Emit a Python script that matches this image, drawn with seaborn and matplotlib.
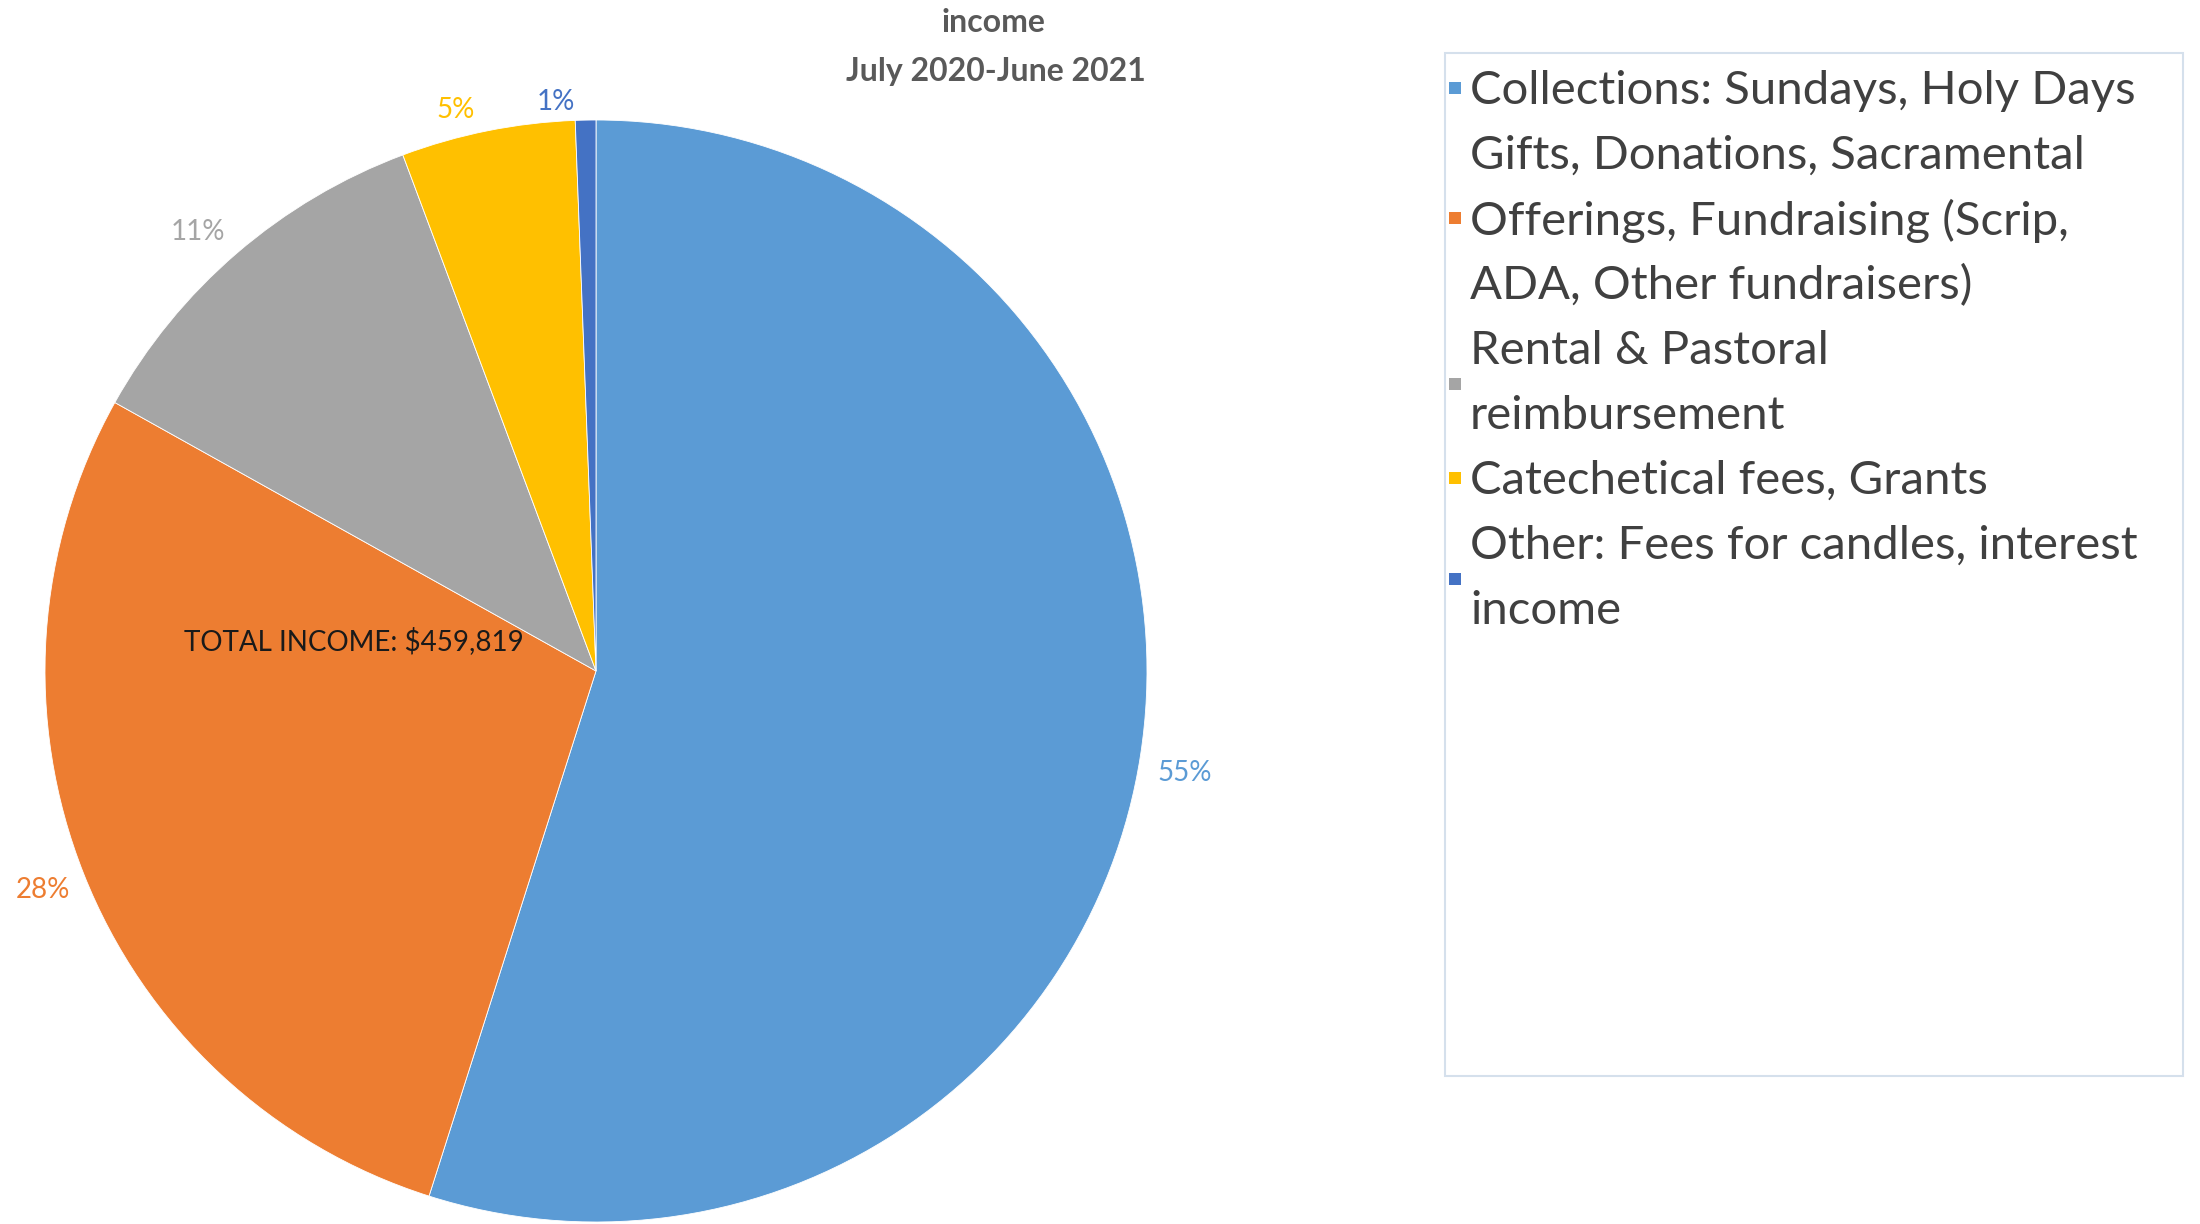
import matplotlib
matplotlib.use("Agg")
import matplotlib.pyplot as plt
from matplotlib.patches import Rectangle
import numpy as np
import seaborn as sns

# --- data ---
categories = [
    "Collections: Sundays, Holy Days\nGifts, Donations, Sacramental",
    "Offerings, Fundraising (Scrip,\nADA, Other fundraisers)",
    "Rental & Pastoral\nreimbursement",
    "Catechetical fees, Grants",
    "Other: Fees for candles, interest\nincome",
]
shares = [54.9, 28.2, 11.2, 5.1, 0.6]
colors = ["#5B9BD5", "#ED7D31", "#A5A5A5", "#FFC000", "#4472C4"]
title_lines = ["income", "July 2020-June 2021"]
total_text = "TOTAL INCOME: $459,819"

# label placement tweaks (radial distance, angle nudge in degrees)
lab_dist = [1.085, 1.08, 1.075, 1.05, 1.035]
lab_nudge = [1.0, 0.0, -1.5, -2.7, -3.0]

sns.set_theme(style="white")
plt.rcParams["font.family"] = ["Lato", "DejaVu Sans"]

W, H = 2200, 1224
fig = plt.figure(figsize=(W / 100, H / 100), dpi=100)
fig.patch.set_facecolor("white")

def fx(px):
    return px / W

def fy(py):
    return 1 - py / H

# pie axes: centre (596, 671), radius 551 px
cx, cy, r = 596, 671, 551
ax = fig.add_axes([fx(cx - r), fy(cy + r), 2 * r / W, 2 * r / H])
wedges, _, autotexts = ax.pie(
    shares, colors=colors, startangle=90, counterclock=False,
    autopct="%1.0f%%", pctdistance=1.08,
    wedgeprops=dict(edgecolor="white", linewidth=0.6),
    textprops=dict(fontsize=20),
)
for w, t, c, d, n in zip(wedges, autotexts, colors, lab_dist, lab_nudge):
    mid = np.deg2rad((w.theta1 + w.theta2) / 2 + (-n))
    t.set_position((d * np.cos(mid), d * np.sin(mid)))
    t.set_color(c)
    t.set_clip_on(False)
ax.set_xlim(-1, 1)
ax.set_ylim(-1, 1)
ax.set_aspect("equal")
ax.axis("off")

# total income note inside the orange slice
fig.text(fx(354), fy(641), total_text, ha="center", va="center",
         fontsize=20, color="#1a1a1a")

# title (top line cut by the frame)
fig.text(fx(993), fy(22), title_lines[0], ha="center", va="center",
         fontsize=23, fontweight="bold", color="#595959")
fig.text(fx(996), fy(72), title_lines[1], ha="center", va="center",
         fontsize=23, fontweight="bold", color="#595959")

# legend drawn by hand: box, coloured squares and wrapped labels
fig.patches.append(Rectangle((fx(1445), fy(1076)), fx(2183 - 1445), (1076 - 53) / H,
                             transform=fig.transFigure, facecolor="white",
                             edgecolor="#D5E0EC", linewidth=1.5, zorder=0))
line_y0, line_step = 91, 65
text_x, mark_x, mark_s = 1470, 1449, 12
line = 0
for label, c in zip(categories, colors):
    rows = label.split("\n")
    for i, row in enumerate(rows):
        fig.text(fx(text_x), fy(line_y0 + (line + i) * line_step), row,
                 ha="left", va="center", fontsize=34, color="#404040")
    if len(rows) == 2 and label.startswith(("Rental", "Other")):
        my = line_y0 + (line + 0.5) * line_step
    else:
        my = line_y0 + line * line_step - 3
    fig.patches.append(Rectangle((fx(mark_x), fy(my + mark_s / 2)), mark_s / W, mark_s / H,
                                 transform=fig.transFigure, facecolor=c,
                                 edgecolor="none"))
    line += len(rows)

fig.savefig("out.png", dpi=100)
